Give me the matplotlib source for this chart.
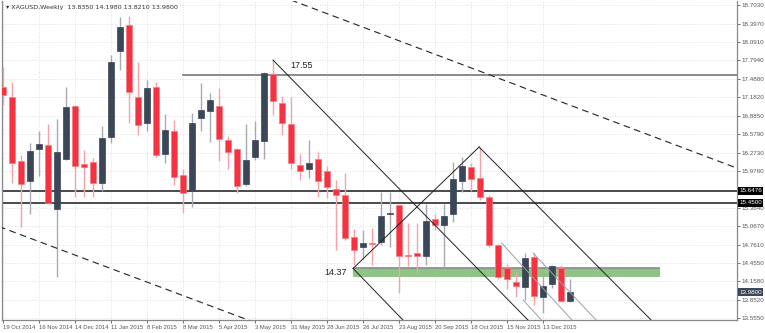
import numpy as np
import matplotlib
matplotlib.use('Agg')
from matplotlib import pyplot as plt
from matplotlib.patches import Rectangle
import matplotlib.transforms as mtransforms

plt.rcParams['font.family'] = ['Liberation Sans Narrow', 'Liberation Sans', 'DejaVu Sans']

# weekly XAGUSD candles, 19 Oct 2014 .. 3 Jan 2016
opens = [17.354, 17.19, 16.137, 15.808, 16.334, 16.40, 15.347, 16.17, 17.042, 16.088,
         16.121, 15.775, 16.532, 17.946, 18.374, 17.19, 16.762, 17.354, 16.252, 16.63,
         15.907, 15.644, 16.844, 16.959, 17.042, 16.482, 16.334, 15.759, 16.203, 16.466,
         17.568, 17.091, 16.746, 16.071, 16.005, 16.17, 15.972, 15.676, 15.578, 14.887,
         14.72, 14.788, 14.805, 15.265, 15.413, 14.59, 14.624, 14.574, 15.183, 15.084,
         15.265, 15.808, 16.038, 15.857, 15.545, 14.755, 14.377, 14.147, 14.065, 14.558,
         13.9, 14.114, 14.377, 13.835]
highs = [17.683, 17.436, 16.236, 16.433, 16.63, 16.746, 16.828, 17.354, 17.06, 16.318,
         16.19, 16.713, 17.88, 18.505, 18.522, 17.765, 17.469, 17.436, 16.91, 16.811,
         16.005, 16.926, 17.42, 17.255, 17.338, 16.548, 16.35, 16.746, 16.795, 17.601,
         17.798, 17.206, 17.19, 16.252, 16.482, 16.285, 16.055, 15.824, 15.94, 15.019,
         15.002, 15.035, 15.627, 15.627, 15.42, 15.117, 15.117, 15.43, 15.265, 15.43,
         16.121, 16.203, 16.104, 16.367, 15.578, 14.772, 14.443, 14.311, 14.624, 14.624,
         14.295, 14.426, 14.426, 14.198]
lows = [17.058, 15.775, 15.051, 15.265, 15.89, 15.43, 14.229, 16.15, 15.545, 15.545,
        15.545, 15.644, 16.433, 17.634, 16.762, 16.565, 16.63, 16.203, 16.104, 15.742,
        15.282, 15.38, 16.63, 16.449, 16.137, 16.005, 15.611, 15.726, 16.153, 16.17,
        16.894, 16.565, 16.005, 15.824, 15.857, 15.545, 15.528, 14.673, 14.838, 14.42,
        14.525, 14.426, 14.755, 14.723, 13.966, 14.41, 14.295, 14.426, 15.002, 14.377,
        15.134, 15.627, 15.644, 15.496, 14.723, 14.196, 14.032, 13.9, 13.851, 13.769,
        13.637, 14.048, 13.818, 13.821]
closes = [17.222, 16.104, 15.759, 16.301, 16.417, 15.446, 16.285, 17.025, 16.055, 16.038,
          15.775, 16.515, 17.765, 18.341, 17.272, 16.729, 17.338, 16.236, 16.647, 15.874,
          15.611, 16.762, 16.976, 17.14, 16.499, 16.285, 15.726, 16.153, 16.482, 17.584,
          17.124, 16.762, 16.104, 15.972, 16.104, 15.808, 15.709, 15.578, 14.871, 14.673,
          14.785, 14.772, 15.232, 15.282, 14.574, 14.574, 14.574, 15.15, 15.084, 15.232,
          15.841, 16.055, 15.841, 15.545, 14.755, 14.229, 14.196, 14.081, 14.542, 13.917,
          14.081, 14.41, 13.835, 13.98]

date_labels = ["19 Oct 2014", "16 Nov 2014", "14 Dec 2014", "11 Jan 2015", "8 Feb 2015",
               "8 Mar 2015", "5 Apr 2015", "3 May 2015", "31 May 2015", "28 Jun 2015",
               "26 Jul 2015", "23 Aug 2015", "20 Sep 2015", "18 Oct 2015", "15 Nov 2015",
               "13 Dec 2015"]
price_ticks = [18.7030, 18.3970, 18.0910, 17.7940, 17.4880, 17.1820, 16.8850, 16.5790,
               16.2730, 15.9760, 15.3640, 15.0670, 14.7610, 14.4550, 14.1580, 13.8520, 13.5550]

# levels and drawn lines (week index, price)
resist_levels = [15.6476, 15.4500]
top_level = 17.55
top_level_start = 19.9
zone_lo, zone_hi = 14.229, 14.37
zone_x = (38.9, 73.0)
solid_lines = [
    [(30.0, 17.798), (60.0, 13.27)],
    [(38.9, 14.37), (45.5, 13.36)],
    [(38.9, 14.37), (52.9, 16.367)],
    [(52.9, 16.367), (72.5, 13.45)],
]
light_lines = [
    [(55.4, 14.788), (63.6, 13.46)],
    [(58.9, 14.624), (66.3, 13.46)],
    [(57.8, 13.851), (60.2, 13.46)],
]
dashed_lines = [
    [(32.0, 18.785), (83.0, 15.94)],
    [(-1.0, 15.09), (28.0, 13.48)],
]
last_price = 13.98

bull_body = '#3b4656'
bear_body = '#f5323f'
bull_wick = '#a6aab0'
bear_wick = '#f6a2a8'

fig = plt.figure(figsize=(7.65, 3.33), dpi=100)
ax = fig.add_axes([0.0026, 0.039, 0.9608, 0.958])
n = len(opens)
x = np.arange(n)

ax.set_xlim(-0.11, 81.56)
ax.set_ylim(13.522, 18.769)

# grid
ax.set_yticks(price_ticks)
ax.set_yticklabels(['%.4f' % p for p in price_ticks])
ax.set_xticks(np.arange(0, 4 * len(date_labels), 4))
ax.set_xticklabels(date_labels, ha='left')
ax.grid(True, color='#d6d6d6', linestyle=(0, (1, 2)), linewidth=0.6)
ax.set_axisbelow(True)

# levels
for lv in resist_levels:
    ax.axhline(lv, color='#4a4a4a', lw=1.4, zorder=2)
ax.hlines(top_level, top_level_start, 81.56, color='#8a8a8a', lw=1.4, zorder=2)
ax.add_patch(Rectangle((zone_x[0], zone_lo), zone_x[1] - zone_x[0], zone_hi - zone_lo,
                       facecolor='#8ec486', edgecolor='none', zorder=1.5))
ax.hlines(zone_hi, zone_x[0], zone_x[1], color='#8a8a8a', lw=1.2, zorder=2)

# candles
for i in range(n):
    up = closes[i] >= opens[i]
    ax.vlines(x[i], lows[i], highs[i], color=bull_wick if up else bear_wick, lw=1.0, zorder=3)
    lo = min(opens[i], closes[i])
    h = max(abs(closes[i] - opens[i]), 0.012)
    ax.bar(x[i], h, bottom=lo, width=0.62, color=bull_body if up else bear_body,
           edgecolor=bull_body if up else '#f77a82', linewidth=0.5, zorder=4)

# trend lines
for seg in solid_lines:
    ax.plot([seg[0][0], seg[1][0]], [seg[0][1], seg[1][1]], color='#222222', lw=0.7, zorder=5)
for seg in light_lines:
    ax.plot([seg[0][0], seg[1][0]], [seg[0][1], seg[1][1]], color='#9aa0a6', lw=0.7, zorder=5)
for seg in dashed_lines:
    ax.plot([seg[0][0], seg[1][0]], [seg[0][1], seg[1][1]], color='#222222', lw=0.8,
            linestyle=(0, (6, 4)), zorder=5)

ax.text(31.9, 17.66, "17.55", fontsize=6.5, color='#222222', zorder=6,
        family=['Liberation Sans', 'DejaVu Sans'])
ax.text(38.2, 14.30, "14.37", fontsize=6.5, color='#222222', ha='right', va='center', zorder=6,
        family=['Liberation Sans', 'DejaVu Sans'])

ax.text(0.006, 0.988, u"\u25be XAGUSD,Weekly  13.8350 14.1980 13.8210 13.9800",
        transform=ax.transAxes, fontsize=4.6, color='#333333', va='top', ha='left',
        family=['Liberation Sans Narrow', 'DejaVu Sans'])

# axes styling
ax.yaxis.tick_right()
ax.tick_params(axis='y', labelsize=4.5, length=2, width=0.6, pad=1.5, colors='#555555')
ax.tick_params(axis='x', labelsize=4.2, length=2, width=0.6, pad=1.5, colors='#555555')
for s in ['top']:
    ax.spines[s].set_visible(False)
for s in ['left', 'bottom', 'right']:
    ax.spines[s].set_color('#888888')
    ax.spines[s].set_linewidth(0.9)

# highlighted price labels on the right axis
trans = mtransforms.blended_transform_factory(ax.transAxes, ax.transData)
for lv in resist_levels:
    ax.text(1.003, lv, '%.4f' % lv, transform=trans, fontsize=4.5, color='white',
            va='center', ha='left', zorder=7, clip_on=False,
            bbox=dict(boxstyle='square,pad=0.2', facecolor='black', edgecolor='none'))
ax.text(1.003, last_price, '%.4f' % last_price, transform=trans, fontsize=4.5, color='white',
        va='center', ha='left', zorder=7, clip_on=False,
        bbox=dict(boxstyle='square,pad=0.2', facecolor='#3b4656', edgecolor='none'))

plt.savefig('out.png', dpi=100)
